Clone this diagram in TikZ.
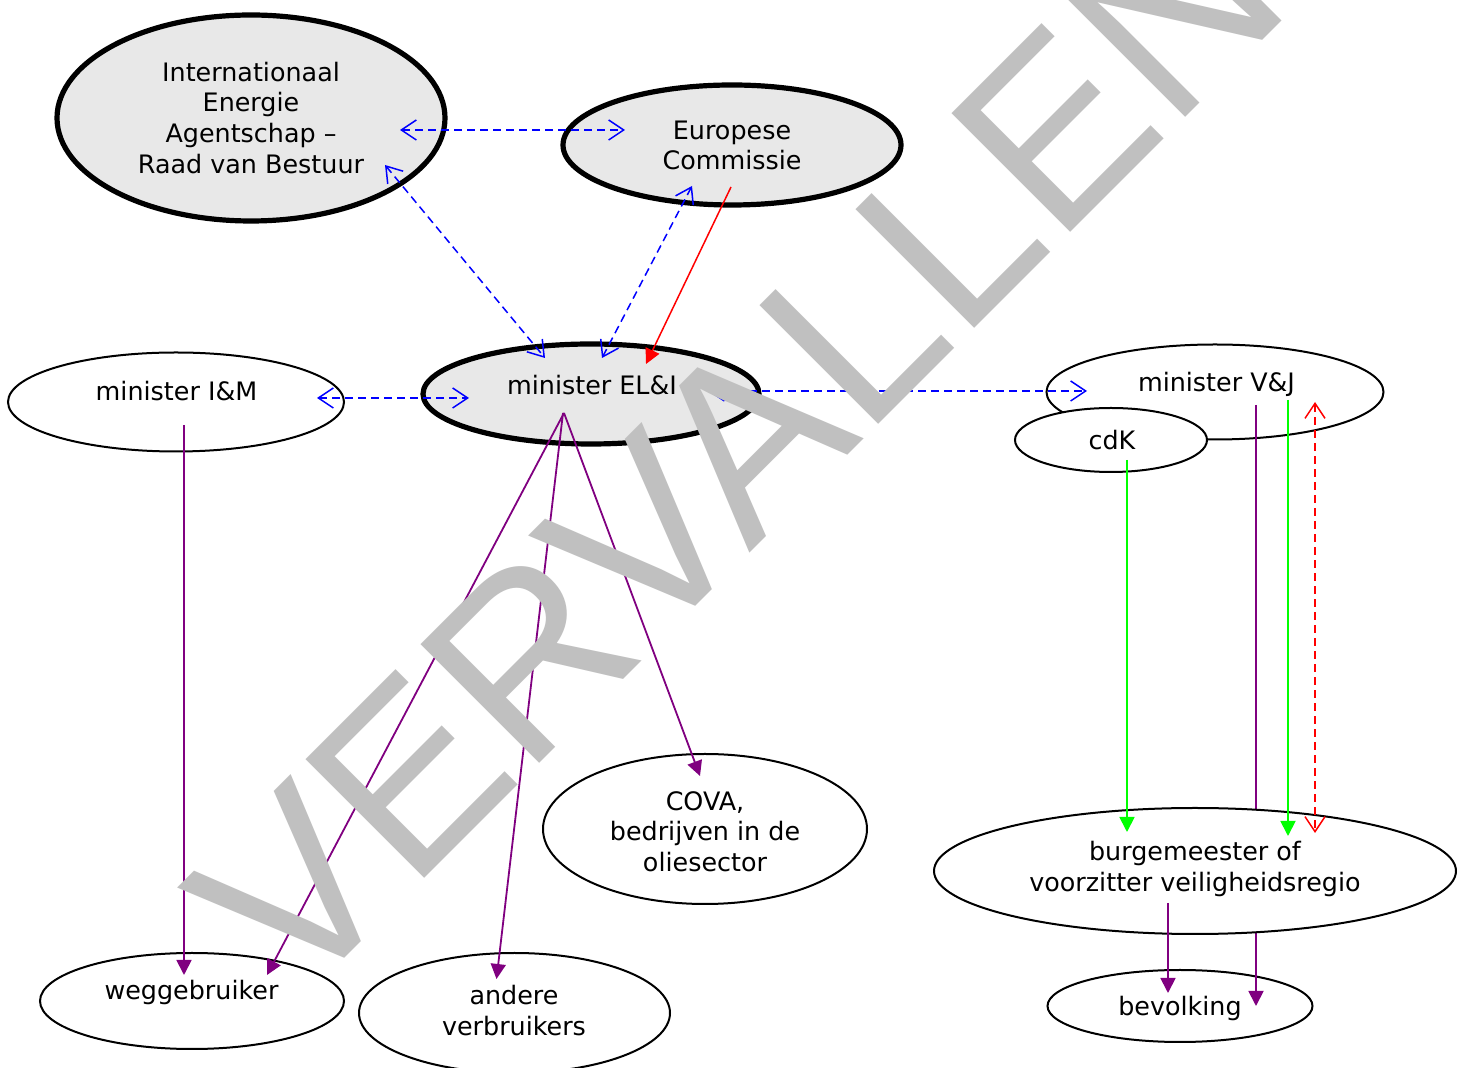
\documentclass[tikz,border=0pt]{standalone}
\usepackage{fontspec}
\setmainfont{DejaVu Sans}
\newfontfamily\wmfont{Liberation Sans}
\usetikzlibrary{shapes.geometric,arrows.meta,calc}
\definecolor{lightgr}{RGB}{232,232,232}
\definecolor{wmgray}{RGB}{192,192,192}
\definecolor{purp}{RGB}{128,0,128}
\definecolor{grn}{RGB}{0,255,0}
\tikzset{
  bubble/.style={ellipse, draw=black, line width=1pt, fill=white, inner sep=0pt},
  keybubble/.style={bubble, line width=2.6pt, fill=lightgr},
  lbl/.style={font=\fontsize{12.7}{15.4}\selectfont, align=center, inner sep=0pt},
  openhd/.tip={Straight Barb[length=7.5pt,width=10pt]},
  fillhd/.tip={Triangle[length=7.5pt,width=7.5pt]},
  consult/.style={draw=blue, line width=0.75pt, dash pattern=on 4pt off 2.5pt, {openhd}-{openhd}},
  reddash/.style={draw=red, line width=0.75pt, dash pattern=on 4pt off 2.5pt, {openhd}-{openhd}},
  redline/.style={draw=red, line width=0.75pt, -{fillhd}},
  greenline/.style={draw=grn, line width=0.9pt, -{fillhd}},
  purpline/.style={draw=purp, line width=0.9pt, -{fillhd}},
}
\begin{document}
\begin{tikzpicture}[x=0.5pt,y=-0.5pt]
\fill[white] (0,0) rectangle (1469,1068);
\useasboundingbox (0,0) rectangle (1469,1068);

% ellipses
\node[keybubble, minimum width=194pt, minimum height=103pt] (iea) at (251,118) {};
\node[keybubble, minimum width=169pt, minimum height=60pt] (ec) at (732,145) {};
\node[keybubble, minimum width=168pt, minimum height=50pt] (eli) at (591,394) {};
\node[bubble, minimum width=168pt, minimum height=49.5pt] (im) at (176,402) {};
\node[bubble, minimum width=168.5pt, minimum height=47.5pt] (vj) at (1215,392) {};
\node[bubble, minimum width=96pt, minimum height=32pt] (cdk) at (1111,440) {};
\node[bubble, minimum width=162pt, minimum height=75pt] (cova) at (705,829) {};
\node[bubble, minimum width=152pt, minimum height=48pt] (weg) at (192,1001) {};
\node[bubble, minimum width=155.5pt, minimum height=60pt] (andv) at (514.5,1013) {};
\node[bubble, minimum width=132.5pt, minimum height=36pt] (bev) at (1180,1006) {};

% purple line from V&J passing behind the burgemeester ellipse
\draw[purpline] ($(vj)+(41,13)$) -- ($(bev)+(76,0)$);

\node[bubble, minimum width=261pt, minimum height=63pt] (burg) at (1195,871) {};

% labels
\node[lbl] (iea-t) at (251,117.9) {Internationaal\\Energie\\Agentschap –\\Raad van Bestuur};
\node[lbl] (ec-t) at (732,145.4) {Europese\\Commissie};
\node[lbl, anchor=base] (eli-t) at (592,395) {minister EL\&I};
\node[lbl, anchor=base] (im-t) at (176.5,401) {minister I\&M};
\node[lbl, anchor=base] (vj-t) at (1216.5,392) {minister V\&J};
\node[lbl, anchor=base] (cdk-t) at (1112,450) {cdK};
\node[lbl] (cova-t) at (705,831.6) {COVA,\\bedrijven in de\\oliesector};
\node[lbl, anchor=base] (weg-t) at (191.5,1000) {weggebruiker};
\node[lbl] (andv-t) at (514,1010.5) {andere\\verbruikers};
\node[lbl] (burg-t) at (1195,868.7) {burgemeester of\\voorzitter veiligheidsregio};
\node[lbl, anchor=base] (bev-t) at (1180,1016) {bevolking};

% consultation (blue dashed)
\draw[consult] ($(iea)+(149,12)$) -- ($(ec)+(-107,-15)$);
\draw[consult] ($(iea)+(134,47)$) -- ($(eli)+(-46,-36)$);
\draw[consult] ($(ec)+(-40,41)$) -- ($(eli)+(11,-36)$);
\draw[consult] ($(im)+(141,-4)$) -- ($(eli)+(-122,4)$);
\draw[consult] ($(eli)+(117,-3)$) -- ($(vj)+(-128,-1)$);

% red
\draw[redline] ($(ec)+(-1,42)$) -- ($(eli)+(55,-30)$);
\draw[reddash] ($(vj)+(100,10)$) -- ($(burg)+(120,-38)$);

% green
\draw[greenline] ($(cdk)+(16,20)$) -- ($(burg)+(-68,-39)$);
\draw[greenline] ($(vj)+(73,8)$) -- ($(burg)+(93,-35)$);

% purple
\draw[purpline] ($(im)+(8,23)$) -- ($(weg)+(-8,-26)$);
\draw[purpline] ($(eli)+(-27,19)$) -- ($(weg)+(75,-26)$);
\draw[purpline] ($(eli)+(-28,19)$) -- ($(andv)+(-18,-34)$);
\draw[purpline] ($(eli)+(-27,19)$) -- ($(cova)+(-5,-53)$);
\draw[purpline] ($(burg)+(-27,32)$) -- ($(bev)+(-12,-13)$);

% watermark
\node[rotate=45, anchor=base west, inner sep=0pt, text=wmgray,
      font=\wmfont\fontsize{122}{122}\selectfont] (wm) at (294.9,1007.8) {VERVALLEN};
\end{tikzpicture}
\end{document}
